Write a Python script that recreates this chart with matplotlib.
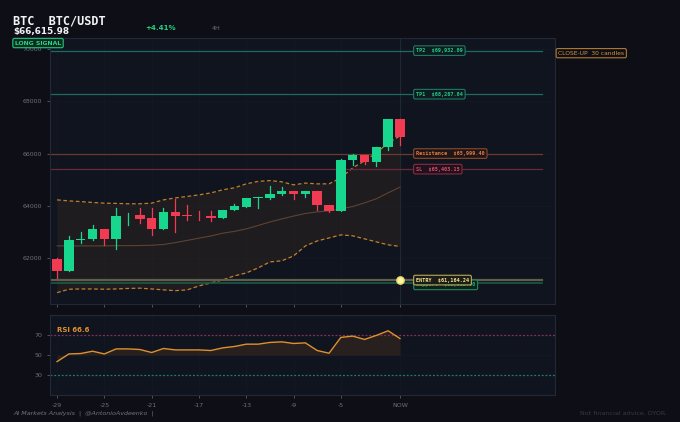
import matplotlib
matplotlib.use("Agg")
import matplotlib.pyplot as plt
import numpy as np

# ---------------- data ----------------
opens  = [61960, 61525, 62710, 62725, 63120, 62750, 63640, 63645, 63530, 63110,
          63770, 63630, 63625, 63600, 63540, 63840, 63975, 64300, 64305, 64470,
          64560, 64445, 64560, 64025, 63810, 65760, 65925, 65680, 66245, 67315]
highs  = [61990, 62830, 62995, 63250, 63130, 63910, 63720, 63910, 63900, 63900,
          64270, 64050, 63800, 63820, 63860, 64070, 64310, 64330, 64765, 64710,
          64570, 64570, 64570, 64030, 65790, 65990, 65930, 66260, 67330, 67330]
lows   = [61250, 61500, 62575, 62700, 62510, 62345, 63275, 63350, 62890, 63100,
          63020, 63470, 63470, 63420, 63530, 63830, 63960, 63935, 64250, 64400,
          64260, 64350, 63850, 63750, 63800, 65580, 65600, 65510, 66120, 66330]
closes = [61525, 62700, 62740, 63120, 62750, 63630, 63660, 63515, 63110, 63770,
          63620, 63610, 63605, 63530, 63850, 63990, 64305, 64320, 64470, 64575,
          64445, 64560, 64040, 63810, 65760, 65925, 65680, 66245, 67315, 66616]

bb_upper = [64229, 64190, 64164, 64130, 64103, 64095, 64080, 64080, 64103, 64229,
            64305, 64360, 64420, 64495, 64612, 64690, 64841, 64935, 64967, 64920,
            64803, 64870, 64840, 64841, 65070, 65453, 65720, 66027, 66398, 66677]
bb_mid   = [62470, 62470, 62470, 62470, 62470, 62480, 62480, 62485, 62495, 62525,
            62595, 62680, 62765, 62850, 62955, 63025, 63120, 63250, 63385, 63500,
            63610, 63710, 63770, 63810, 63885, 63975, 64115, 64270, 64500, 64715]
bb_lower = [60685, 60815, 60825, 60825, 60815, 60825, 60845, 60855, 60825, 60790,
            60760, 60790, 60941, 61055, 61170, 61325, 61438, 61630, 61859, 61900,
            62088, 62470, 62660, 62775, 62891, 62855, 62740, 62625, 62510, 62451]

rsi = [43.7, 51.3, 51.7, 54.0, 51.3, 56.3, 56.3, 55.7, 52.7, 56.7,
       55.3, 55.3, 55.3, 54.7, 57.3, 58.7, 61.0, 61.0, 62.7, 63.3,
       61.7, 62.3, 54.7, 52.0, 67.7, 69.0, 65.7, 69.7, 74.3, 66.6]

tick_pos = [0, 4, 8, 12, 16, 20, 24, 29]
tick_labels = ["-29", "-25", "-21", "-17", "-13", "-9", "-5", "NOW"]

tp2, tp1 = 69932.09, 68267.04
resistance, sl = 65999.40, 65403.15
entry, support = 61164.24, 61052.00

# ---------------- style ----------------
BG = "#0d0e16"
AX = "#10141f"
GREEN = "#17d68d"
RED = "#f03b53"
ORANGE = "#e0912f"
TICK = "#6c717c"
SPINE = "#232836"

fig = plt.figure(figsize=(6.8, 4.22), dpi=100, facecolor=BG)
ax = fig.add_axes([0.0735, 0.2796, 0.7425, 0.6304], facecolor=AX)
ax2 = fig.add_axes([0.0735, 0.0628, 0.7425, 0.1908], facecolor=AX)

n = len(opens)
x = np.arange(n)

for a in (ax, ax2):
    for s in a.spines.values():
        s.set_color(SPINE)
        s.set_linewidth(0.8)
    a.tick_params(colors=TICK, labelsize=4.5, length=2, width=0.5)
    a.grid(True, color="#141926", linewidth=0.5)
    a.set_axisbelow(True)
    a.set_xlim(-0.6, 42.1)
    a.set_xticks(tick_pos)

# Bollinger fill and lines
ax.fill_between(x, bb_lower, bb_upper, color="#2a2420", alpha=0.55, linewidth=0, zorder=1)
ax.plot(x, bb_upper, color=ORANGE, lw=0.9, ls=(0, (3, 2)), alpha=0.85, zorder=2)
ax.plot(x, bb_lower, color=ORANGE, lw=0.9, ls=(0, (3, 2)), alpha=0.85, zorder=2)
ax.plot(x, bb_mid, color="#5e4334", lw=0.8, zorder=2)

# level lines
xmax_line = 41
levels = [
    (tp2, "#1d6b63", 0.9), (tp1, "#1d6b63", 0.9),
    (resistance, "#6b3a2c", 0.9), (sl, "#6b2838", 0.9),
    (entry, "#5e5e4c", 1.6), (support, "#1c5a45", 1.2),
]
for y, c, lw in levels:
    ax.plot([-0.6, xmax_line], [y, y], color=c, lw=lw, zorder=2)

ax.axvline(29, color="#222734", lw=0.8, zorder=1)

# candles
w = 0.8
for i in range(n):
    o, h, l, c = opens[i], highs[i], lows[i], closes[i]
    col = GREEN if c >= o else RED
    ax.plot([i, i], [l, h], color=col, lw=0.9, zorder=3)
    bottom = min(o, c)
    height = max(abs(c - o), 25)
    ax.bar(i, height, bottom=bottom, width=w, color=col, edgecolor=col, lw=0, zorder=4)

# entry marker
ax.scatter([29], [entry], s=28, color="#fff3a0", edgecolor="#e8d870", zorder=6)

# labels
def tag(y, text, tc, ec, fc):
    ax.text(30.35, y, text, color=tc, fontsize=3.7, fontweight="bold",
            family="DejaVu Sans Mono", va="center", ha="left", zorder=7,
            bbox=dict(boxstyle="round,pad=0.45,rounding_size=0.3", fc=fc, ec=ec, lw=0.8))

tag(support - 70, "Support  $61,052.00", "#1fae74", "#1f8a5e", "#0f1f1c")
tag(tp2, "TP2  $69,932.09", "#22c98a", "#1d7a62", "#0f1c1f")
tag(tp1, "TP1  $68,267.04", "#22c98a", "#1d7a62", "#0f1c1f")
tag(resistance, "Resistance  $65,999.40", "#e8773d", "#8a4a2c", "#1c1618")
tag(sl, "SL  $65,403.15", "#ea4a62", "#8a2b3c", "#1c1220")
tag(entry, "ENTRY  $61,164.24", "#f5e58c", "#b8aa55", "#1b1c18")

ax.set_ylim(60250, 70415)
ax.set_yticks([62000, 64000, 66000, 68000, 70000])
ax.set_yticklabels(["62000", "64000", "66000", "68000", "70000"])
ax.tick_params(axis="x", labelbottom=False)

# RSI panel
ax2.fill_between(x, 50, rsi, color="#2a221e", alpha=0.9, linewidth=0, zorder=1)
ax2.plot(x, rsi, color=ORANGE, lw=1.0, zorder=3)
ax2.axhline(70, color="#8a2f5a", lw=0.9, ls=(0, (1.5, 1.5)), zorder=2)
ax2.axhline(30, color="#1f7a72", lw=0.9, ls=(0, (1.5, 1.5)), zorder=2)
ax2.set_ylim(10, 90)
ax2.set_yticks([30, 50, 70])
ax2.set_xticklabels(tick_labels)
ax2.text(0, 75, "RSI 66.6", color=ORANGE, fontsize=5, fontweight="bold", va="center", ha="left")

# header
fig.text(0.019, 0.943, "BTC  BTC/USDT", color="#f2f3f5", fontsize=8.6, fontweight="bold",
         family="DejaVu Sans Mono", va="baseline")
fig.text(0.019, 0.919, "$66,615.98", color="#f2f3f5", fontsize=6.4, fontweight="bold",
         family="DejaVu Sans", va="baseline")
fig.text(0.214, 0.929, "+4.41%", color="#22d07f", fontsize=5.0, fontweight="bold", va="baseline")
fig.text(0.312, 0.929, "4H", color="#6a6f7a", fontsize=4.6, va="baseline")
fig.text(0.022, 0.898, "LONG SIGNAL", color="#22d98a", fontsize=4.4, fontweight="bold",
         family="DejaVu Sans", va="center", ha="left",
         bbox=dict(boxstyle="round,pad=0.35,rounding_size=0.25", fc="#0e2a1f", ec="#1fb574", lw=0.9))
fig.text(0.821, 0.874, "CLOSE-UP  30 candles", color="#d9963f", fontsize=4.3,
         va="center", ha="left",
         bbox=dict(boxstyle="round,pad=0.35,rounding_size=0.25", fc=BG, ec="#b07a30", lw=0.8))

# footer
fig.text(0.019, 0.021, "AI Markets Analysis  |  @AntonioAvdeenko  |", color="#70757f",
         fontsize=4.6, style="italic", va="center", ha="left")
fig.text(0.981, 0.021, "Not financial advice. DYOR.", color="#353a46", fontsize=4.6,
         va="center", ha="right")

fig.savefig("out.png", dpi=100, facecolor=BG)
